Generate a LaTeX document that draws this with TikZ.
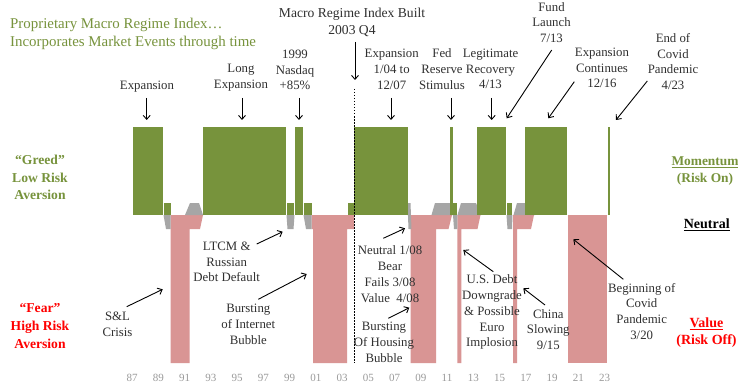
\documentclass[tikz,border=0pt]{standalone}
\usepackage{fontspec}
\setmainfont{Liberation Serif}
\usetikzlibrary{arrows.meta}
\definecolor{gbar}{HTML}{77933C}
\definecolor{pbar}{HTML}{D99594}
\definecolor{gtr}{HTML}{A6A6A6}
\definecolor{gtext}{HTML}{77933C}
\definecolor{rtext}{HTML}{FF0000}
\definecolor{txt}{HTML}{303030}
\definecolor{yrc}{HTML}{9A9A9A}
\newcommand\yT{127}
\newcommand\yS{203}
\newcommand\yN{215}
\newcommand\yG{229}
\newcommand\yB{363}
\begin{document}
\begin{tikzpicture}[x=1pt,y=-1pt,
  lbl/.style={font=\fontsize{12.8}{15.8}\selectfont, text=txt, align=center, inner sep=0pt},
  arr/.style={-{Straight Barb[length=4pt,width=7pt]}, line width=0.9pt, black},
  greenfill/.style={fill=gbar},
  pinkfill/.style={fill=pbar},
  grayfill/.style={fill=gtr},
  yrlbl/.style={font=\fontsize{11}{13}\selectfont, text=yrc, inner sep=0pt},
  side/.style={font=\bfseries\fontsize{13.6}{17.5}\selectfont, align=center, inner sep=0pt},
  rside/.style={font=\bfseries\fontsize{14}{17}\selectfont, align=center, inner sep=0pt}]
\fill[white] (0,0) rectangle (738,385);
\useasboundingbox (0,0) rectangle (738,385);

% ---------- pink (value) regions ----------
\fill[pinkfill] (170.5,\yN) -- (203,\yN) -- (200,\yG) -- (189.5,\yG) -- (189.5,\yB) -- (170.5,\yB) -- cycle;
\fill[pinkfill] (311.5,\yN) -- (354,\yN) -- (354,\yG) -- (347,\yG) -- (347,\yB) -- (313,\yB) -- (313,\yG) -- (311.5,\yG) -- cycle;
\fill[pinkfill] (410.5,\yN) -- (452,\yN) -- (448.5,\yG) -- (436,\yG) -- (436,\yB) -- (410.5,\yB) -- cycle;
\fill[pinkfill] (457.3,\yN) -- (480.5,\yN) -- (477.5,\yG) -- (461.3,\yG) -- (461.3,\yB) -- (457.3,\yB) -- cycle;
\fill[pinkfill] (513,\yN) -- (534,\yN) -- (531,\yG) -- (517,\yG) -- (517,\yB) -- (513,\yB) -- cycle;
\fill[pinkfill] (567.5,\yN) rectangle (607,\yB);

% ---------- gray (transition) regions ----------
\fill[grayfill] (163.5,\yN) -- (170.5,\yN) -- (170.5,\yG) -- (166,\yG) -- cycle;
\fill[grayfill] (185,\yN) -- (190,\yS) -- (199,\yS) -- (203,\yN) -- cycle;
\fill[grayfill] (286.5,\yN) -- (294.5,\yN) -- (293.5,\yG) -- (287.5,\yG) -- cycle;
\fill[grayfill] (303.5,\yN) -- (311.5,\yN) -- (311.5,\yG) -- (306,\yG) -- cycle;
\fill[grayfill] (407.5,\yS) -- (410.5,\yS) -- (411.5,\yG) -- (408.5,\yG) -- cycle;
\fill[grayfill] (431.5,\yN) -- (435,\yS) -- (450,\yS) -- (453,\yN) -- cycle;
\fill[grayfill] (453,\yN) -- (457.3,\yN) -- (457.3,\yG) -- (454,\yG) -- cycle;
\fill[grayfill] (457.5,\yN) -- (461,\yS) -- (476,\yS) -- (481,\yN) -- cycle;
\fill[grayfill] (506.5,\yN) -- (512.5,\yN) -- (512,\yG) -- (507.5,\yG) -- cycle;
\fill[grayfill] (513.5,\yN) -- (517,\yS) -- (531,\yS) -- (535,\yN) -- cycle;

% ---------- green (momentum) regions ----------
\fill[greenfill] (132.5,\yT) rectangle (163,\yN);
\fill[greenfill] (163.5,\yS) rectangle (170.5,\yN);
\fill[greenfill] (202.5,\yT) rectangle (286,\yN);
\fill[greenfill] (286.8,\yS) rectangle (294.3,\yN);
\fill[greenfill] (295,\yT) rectangle (302.7,\yN);
\fill[greenfill] (303.5,\yS) rectangle (311.5,\yN);
\fill[greenfill] (347.5,\yS) rectangle (353.5,\yN);
\fill[greenfill] (354,\yT) rectangle (407.5,\yN);
\fill[greenfill] (450,\yT) rectangle (452.5,\yN);
\fill[greenfill] (452.5,\yS) rectangle (456.5,\yN);
\fill[greenfill] (477,\yT) rectangle (505.5,\yN);
\fill[greenfill] (506.5,\yS) rectangle (511.5,\yN);
\fill[greenfill] (524.5,\yT) rectangle (567,\yN);
\fill[greenfill] (607.5,\yT) rectangle (610,\yN);

% ---------- dotted index line ----------
\coordinate (dotTop) at (354.5,89);
\coordinate (dotBot) at (354.5,\yB);
\draw[black, line width=1.5pt, dash pattern=on 1.5pt off 1.5pt] (dotTop) -- (dotBot);

% ---------- titles ----------
\node[anchor=west, align=left, font=\fontsize{14.9}{18.5}\selectfont, text=gtext, inner sep=0pt] (title) at (10,34)
  {Proprietary Macro Regime Index…\\Incorporates Market Events through time};
\node[lbl, font=\fontsize{13.6}{17}\selectfont] (built) at (352,22.5) {Macro Regime Index Built\\2003 Q4};

% ---------- top labels ----------
\node[lbl] (exp87) at (147,87) {Expansion};
\node[lbl] (longexp) at (241,78) {Long\\Expansion};
\node[lbl] (nasdaq) at (295,70) {1999\\Nasdaq\\+85\%};
\node[lbl] (exp04) at (391.7,69.5) {Expansion\\1/04 to\\12/07};
\node[lbl] (fed) at (442,69) {Fed\\Reserve\\Stimulus};
\node[lbl] (legit) at (490.5,69) {Legitimate\\Recovery\\4/13};
\node[lbl] (fund) at (551.5,22.5) {Fund\\Launch\\7/13};
\node[lbl] (expcont) at (602,68) {Expansion\\Continues\\12/16};
\node[lbl] (endcovid) at (673,61.5) {End of\\Covid\\Pandemic\\4/23};

% ---------- bottom labels ----------
\node[lbl] (ltcm) at (226.7,262) {LTCM \&\\Russian\\Debt Default};
\node[lbl] (snl) at (117.5,324) {S\&L\\Crisis};
\node[lbl] (internet) at (248.3,324.5) {Bursting\\of Internet\\Bubble};
\node[lbl] (neutral08) at (390,274.3) {Neutral 1/08\\Bear\\Fails 3/08\\Value\ \ 4/08};
\node[lbl] (housing) at (384,342.5) {Bursting\\Of Housing\\Bubble};
\node[lbl] (usdebt) at (492,312.3) {U.S. Debt\\Downgrade\\\& Possible\\Euro\\Implosion};
\node[lbl] (china) at (548.3,329.5) {China\\Slowing\\9/15};
\node[lbl] (begcovid) at (641.7,311.3) {Beginning of\\Covid\\Pandemic\\3/20};

% ---------- side labels ----------
\node[side, text=gtext] (greed) at (40,177.5) {“Greed”\\Low Risk\\Aversion};
\node[side, text=rtext, font=\bfseries\fontsize{13.6}{18}\selectfont] (fear) at (40,326) {“Fear”\\High Risk\\Aversion};
\node[rside, text=gtext, font=\bfseries\fontsize{13.4}{17}\selectfont] (mom) at (705,171.5) {\underline{Momentum}\\(Risk On)};
\node[rside, text=black] (neut) at (706.7,225) {\underline{Neutral}};
\node[rside, text=rtext] (val) at (706.5,332.3) {\underline{Value}\\(Risk Off)};

% ---------- year axis ----------
\foreach \yr [count=\i from 0] in {87,89,91,93,95,97,99,01,03,05,07,09,11,13,15,17,19,21,23}
  \node[yrlbl] (yr\i) at (132+26.25*\i,378) {\yr};

% ---------- arrows ----------
\coordinate (aBuiltT) at (355,42);   \coordinate (aBuiltH) at (355,80);
\coordinate (aE87T) at (146.7,98);   \coordinate (aE87H) at (146.7,120);
\coordinate (aLongT) at (242,98);    \coordinate (aLongH) at (242,120);
\coordinate (aNasT) at (299,98);     \coordinate (aNasH) at (299,120);
\coordinate (aE04T) at (391,98);     \coordinate (aE04H) at (391,120);
\coordinate (aFedT) at (451,98);     \coordinate (aFedH) at (451,120);
\coordinate (aLegT) at (491.7,98);   \coordinate (aLegH) at (491.7,120);
\coordinate (aFundT) at (551.7,50);  \coordinate (aFundH) at (506.7,118.3);
\coordinate (aContT) at (574.3,81.7);\coordinate (aContH) at (548.3,118.3);
\coordinate (aEndT) at (647.3,81);   \coordinate (aEndH) at (616,120);
\coordinate (aLtcmT) at (256.7,244); \coordinate (aLtcmH) at (282.7,231.7);
\coordinate (aSnlT) at (126.7,306.7);\coordinate (aSnlH) at (162.7,289.3);
\coordinate (aIntT) at (258.3,299.3);\coordinate (aIntH) at (306.7,274);
\coordinate (aN08T) at (383.3,238.3);\coordinate (aN08H) at (405,228.3);
\coordinate (aHouT) at (388.3,318.3);\coordinate (aHouH) at (409.3,307.7);
\coordinate (aUsdT) at (493.3,271.7);\coordinate (aUsdH) at (463.3,250);
\coordinate (aChT) at (545,305);     \coordinate (aChH) at (523.3,288.3);
\coordinate (aBegT) at (623.3,279.3);\coordinate (aBegH) at (573.3,239.3);

\foreach \a in {Built,E87,Long,Nas,E04,Fed,Leg,Fund,Cont,End,Ltcm,Snl,Int,N08,Hou,Usd,Ch,Beg}
  \draw[arr] (a\a T) -- (a\a H);
\end{tikzpicture}
\end{document}
